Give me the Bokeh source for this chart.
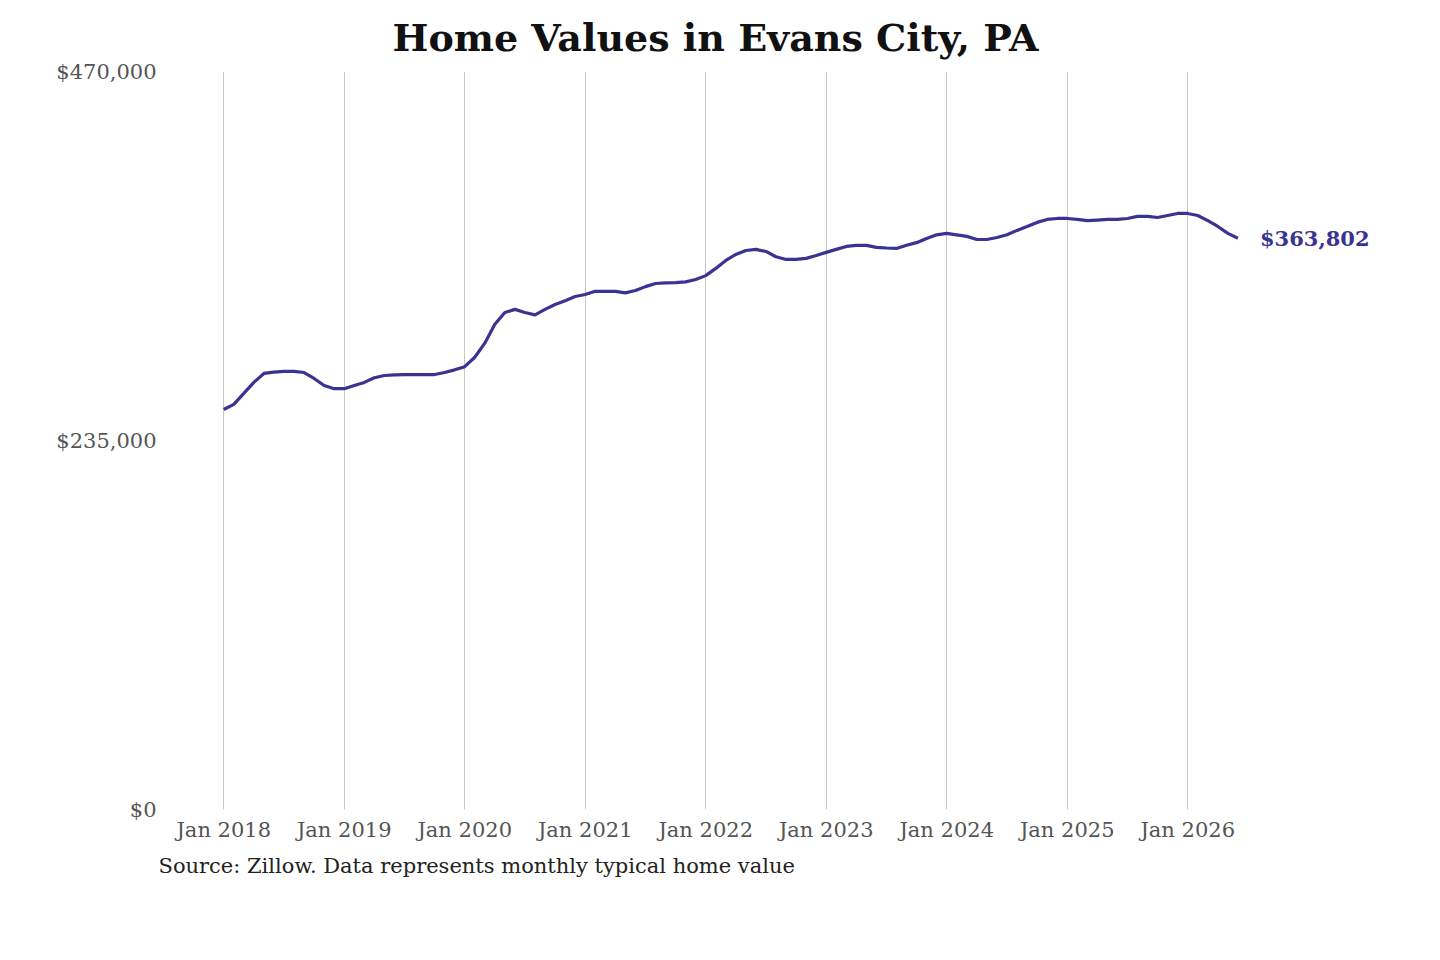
from bokeh.plotting import figure
from bokeh.models import FixedTicker, Label, Title, Range1d
from bokeh.embed import file_html
from bokeh.resources import INLINE

values = [254760, 258000, 265000, 272000, 277700, 278500, 279000, 279000, 278300, 274500, 270000, 268000,
          268000, 270000, 272000, 275000, 276400, 276800, 277000, 277000, 277000, 277000, 278300, 280000,
          282000, 288000, 297000, 309000, 316500, 318500, 316500, 315000, 318500, 321600, 324000, 326700,
          328000, 330000, 330000, 330000, 329000, 330500, 333000, 335000, 335400, 335600, 336000, 337500,
          340000, 344600, 349700, 353500, 356000, 356700, 355400, 352000, 350300, 350300, 351000, 352800,
          354800, 356700, 358600, 359300, 359300, 358000, 357600, 357300, 359300, 361000, 363700, 366000,
          366900, 366000, 365000, 363000, 363000, 364300, 366000, 368800, 371300, 373900, 375800, 376400,
          376400, 375800, 375000, 375400, 375800, 375800, 376400, 377700, 377700, 377000, 378300, 379600,
          379600, 378300, 375000, 371300, 366900, 363802]
months = list(range(len(values)))
tick_pos = [0, 12, 24, 36, 48, 60, 72, 84, 96]
tick_labels = ["Jan 2018", "Jan 2019", "Jan 2020", "Jan 2021", "Jan 2022",
               "Jan 2023", "Jan 2024", "Jan 2025", "Jan 2026"]
y_ticks = [0, 235000, 470000]
y_labels = ["$0", "$235,000", "$470,000"]
last_label = "$363,802"

SERIF = "DejaVu Serif"
p = figure(frame_width=1215, frame_height=738, output_backend="svg", toolbar_location=None,
           x_range=Range1d(-5.6, 115.4), y_range=Range1d(0, 470000),
           min_border_left=167, min_border_right=42, min_border_bottom=20, min_border_top=20)
p.outline_line_color = None
p.title = Title(text="Home Values in Evans City, PA", align="left", offset=225, text_font=SERIF,
                text_font_size="38px", text_font_style="bold", text_color="#111111",
                standoff=24)
p.add_layout(Title(text="Source: Zillow. Data represents monthly typical home value",
                   align="left", offset=-9, text_font=SERIF, text_font_size="21px",
                   text_font_style="normal", text_color="#222222", standoff=14), "below")

p.xaxis.ticker = FixedTicker(ticks=tick_pos)
p.xaxis.major_label_overrides = dict(zip(tick_pos, tick_labels))
p.yaxis.ticker = FixedTicker(ticks=y_ticks)
p.yaxis.major_label_overrides = dict(zip(y_ticks, y_labels))
for ax in (p.xaxis, p.yaxis):
    ax.axis_line_color = None
    ax.major_tick_line_color = None
    ax.minor_tick_line_color = None
    ax.major_label_text_font = SERIF
    ax.major_label_text_font_size = "21px"
    ax.major_label_text_color = "#555555"
p.xaxis.major_label_standoff = 2
p.yaxis.major_label_standoff = 5
p.ygrid.grid_line_color = None
p.xgrid.grid_line_color = "#c8c8c8"
p.xgrid.grid_line_width = 1

p.line(months, values, line_color="#3a3391", line_width=3.2)
p.add_layout(Label(x=months[-1] + 2.2, y=values[-1], text=last_label, text_font=SERIF,
                   text_font_size="21px", text_font_style="bold", text_color="#3a3391",
                   text_baseline="middle"))

open("out.html", "w").write(file_html(p, INLINE))
